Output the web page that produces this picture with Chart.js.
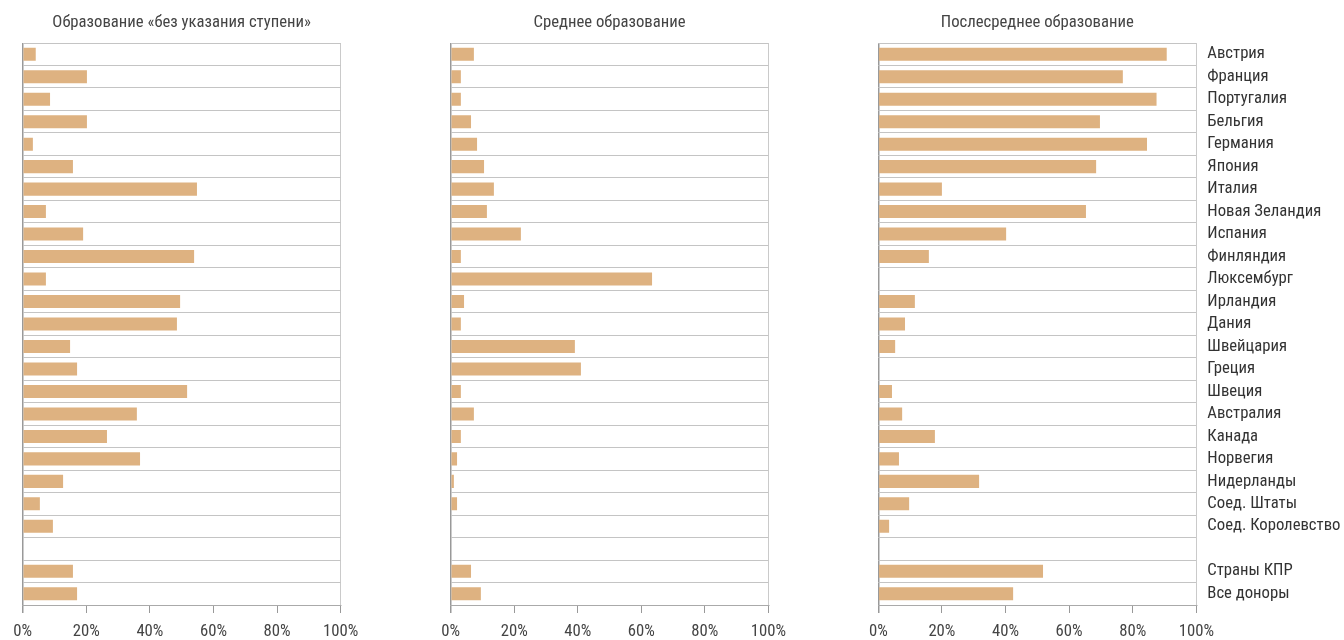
<!DOCTYPE html>
<html>
<head>
<meta charset="utf-8">
<script src="https://cdn.jsdelivr.net/npm/chart.js@4/dist/chart.umd.min.js"></script>
<style>
  html, body { margin: 0; padding: 0; background: #fff; }
  body { width: 1344px; height: 640px; position: relative; overflow: hidden; }
  .panel { position: absolute; top: 0; height: 640px; }
</style>
</head>
<body>
<div class="panel" style="left:0;width:400px"><canvas id="chart-no-level"></canvas></div>
<div class="panel" style="left:420px;width:400px"><canvas id="chart-secondary"></canvas></div>
<div class="panel" style="left:840px;width:504px"><canvas id="chart-post-secondary"></canvas></div>
<script>
// Chart data (share of aid by education level, %)

const countries = [
  'Австрия', 'Франция', 'Португалия', 'Бельгия', 'Германия', 'Япония', 'Италия',
  'Новая Зеландия', 'Испания', 'Финляндия', 'Люксембург', 'Ирландия', 'Дания',
  'Швейцария', 'Греция', 'Швеция', 'Австралия', 'Канада', 'Норвегия',
  'Нидерланды', 'Соед. Штаты', 'Соед. Королевство', '', 'Страны КПР', 'Все доноры'
];

const noLevel = [
  4.1, 20.2, 8.6, 20.2, 3.2, 15.8, 54.8, 7.3, 19.0, 53.9, 7.3, 49.5, 48.5,
  14.9, 17.1, 51.7, 35.9, 26.5, 36.9, 12.7, 5.4, 9.5, null, 15.8, 17.1
];

const secondary = [
  7.3, 3.2, 3.2, 6.4, 8.3, 10.5, 13.6, 11.4, 22.1, 3.2, 63.4, 4.2, 3.2,
  39.1, 41.0, 3.2, 7.3, 3.2, 2.0, 1.0, 2.0, 0, null, 6.4, 9.5
];

const postSecondary = [
  90.7, 76.9, 87.5, 69.7, 84.5, 68.5, 20.0, 65.3, 40.2, 15.9, 0, 11.5, 8.4,
  5.3, 0, 4.3, 7.5, 17.8, 6.5, 31.7, 9.7, 3.4, null, 51.8, 42.4
];

const xTicks = [0, 20, 40, 60, 80, 100];

const titles = [
  'Образование «без указания ступени»',
  'Среднее образование',
  'Послесреднее образование'
];

const FONT = "'Liberation Sans Narrow', 'Roboto Condensed', 'DejaVu Sans Condensed', Roboto, sans-serif";
const BAR_COLOR = '#deb281';

// Draws the panel title centred over the plot area
const panelTitle = {
  id: 'panelTitle',
  afterDraw(chart, args, opts) {
    const { ctx, chartArea } = chart;
    ctx.save();
    ctx.font = '16.7px ' + FONT;
    ctx.fillStyle = '#444';
    ctx.textAlign = 'center';
    ctx.textBaseline = 'middle';
    ctx.fillText(opts.text, (chartArea.left + chartArea.right) / 2, 23);
    ctx.restore();
  }
};

function makePanel(canvasId, values, title, showLabels, padLeft, padRight) {
  const ctx = document.getElementById(canvasId).getContext('2d');
  return new Chart(ctx, {
    type: 'bar',
    data: {
      labels: countries,
      datasets: [{
        data: values,
        backgroundColor: BAR_COLOR,
        borderWidth: 0,
        barPercentage: 0.58,
        categoryPercentage: 1
      }]
    },
    options: {
      indexAxis: 'y',
      responsive: true,
      maintainAspectRatio: false,
      animation: false,
      layout: {
        padding: { top: 43, bottom: 0, left: padLeft, right: padRight }
      },
      plugins: {
        legend: { display: false },
        tooltip: { enabled: false },
        panelTitle: { text: title }
      },
      scales: {
        x: {
          min: 0,
          max: 100,
          afterBuildTicks: scale => {
            scale.ticks = xTicks.map(v => ({ value: v }));
          },
          afterFit: scale => { scale.height = 35; },
          border: { display: true, color: '#aaa', width: 1 },
          grid: {
            drawOnChartArea: true,
            drawTicks: true,
            tickLength: 8,
            tickColor: '#999',
            color: c => c.tick && c.tick.value === 0 ? '#999'
              : (c.tick && c.tick.value === 100 ? '#cacaca' : 'rgba(0,0,0,0)'),
            lineWidth: c => c.tick && c.tick.value === 0 ? 1.5 : 1
          },
          ticks: {
            padding: 9,
            color: '#444',
            font: { family: FONT, size: 16.7 },
            callback: v => v + '%'
          }
        },
        y: {
          position: showLabels ? 'right' : 'left',
          afterFit: scale => { scale.width = showLabels ? 147.7 : 0; },
          border: { display: false },
          grid: {
            offset: true,
            drawTicks: false,
            color: '#c4c4c4',
            lineWidth: 1
          },
          ticks: {
            display: showLabels,
            autoSkip: false,
            padding: 11,
            color: '#333',
            font: { family: FONT, size: 16.7 }
          }
        }
      }
    },
    plugins: [panelTitle]
  });
}

makePanel('chart-no-level', noLevel, titles[0], false, 22.7, 59.3);
makePanel('chart-secondary', secondary, titles[1], false, 30.7, 51.7);
makePanel('chart-post-secondary', postSecondary, titles[2], true, 38.3, 0);
</script>
</body>
</html>
